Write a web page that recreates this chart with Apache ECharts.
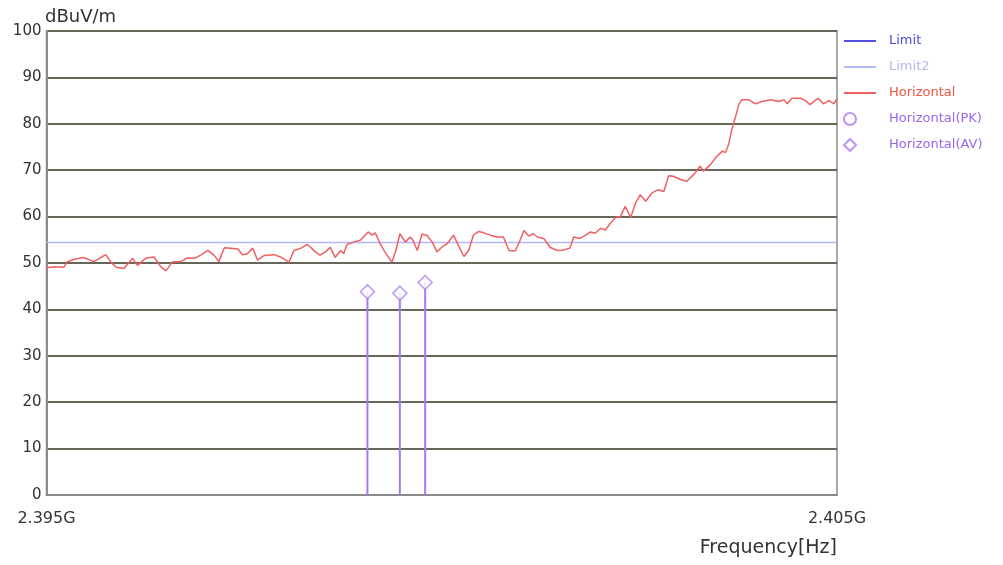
<!DOCTYPE html>
<html><head><meta charset="utf-8">
<script src="https://cdn.jsdelivr.net/npm/echarts@6/dist/echarts.min.js"></script>
<style>html,body{margin:0;padding:0;background:#fff}#c{width:1003px;height:565px}</style>
</head><body><div id="c"></div>
<script>
// Frequency in MHz
const traceFreq = [2395.00,2395.10,2395.22,2395.26,2395.35,2395.47,2395.60,2395.75,2395.81,2395.88,2395.98,2396.09,2396.15,2396.26,2396.36,2396.45,2396.51,2396.59,2396.70,2396.78,2396.87,2396.95,2397.04,2397.12,2397.18,2397.25,2397.33,2397.42,2397.48,2397.54,2397.61,2397.67,2397.75,2397.88,2397.96,2398.07,2398.13,2398.22,2398.30,2398.34,
2398.40,2398.46,2398.53,2398.59,2398.65,2398.72,2398.76,2398.80,2398.88,2398.97,2399.03,2399.07,2399.12,2399.16,2399.22,2399.28,2399.37,2399.42,2399.47,2399.54,2399.60,2399.64,2399.69,2399.75,2399.81,2399.88,2399.94,2400.00,2400.07,2400.15,2400.21,2400.28,2400.34,2400.40,2400.47,2400.53,2400.61,2400.70,2400.78,2400.85,2400.93,2400.99,2401.04,2401.10,2401.16,2401.21,2401.29,2401.37,2401.46,2401.54,2401.62,
2401.67,2401.75,2401.82,2401.88,2401.94,2402.01,2402.07,2402.13,2402.20,2402.26,2402.32,2402.39,2402.45,2402.51,2402.58,2402.66,2402.74,2402.81,2402.87,2402.93,2403.02,2403.10,2403.19,2403.27,2403.31,2403.40,2403.48,2403.55,2403.59,2403.63,2403.67,2403.72,2403.76,2403.80,2403.88,2403.97,2404.05,2404.16,2404.26,2404.33,2404.37,2404.43,2404.54,2404.60,2404.66,2404.72,2404.76,2404.83,2404.90,2404.96,2405.00];
const traceLevel = [49.0,49.2,49.1,50.2,50.8,51.2,50.3,51.8,50.3,49.1,48.8,51.0,49.5,51.1,51.3,49.1,48.3,50.2,50.3,51.1,51.0,51.7,52.7,51.7,50.3,53.3,53.2,53.0,51.8,52.0,53.2,50.6,51.6,51.8,51.3,50.2,52.7,53.2,54.0,53.4,
52.4,51.7,52.4,53.4,51.2,52.7,52.0,54.0,54.5,54.9,56.0,56.7,56.0,56.5,54.2,52.4,50.2,52.7,56.3,54.5,55.6,54.8,52.7,56.2,56.0,54.5,52.4,53.4,54.2,56.0,53.8,51.4,52.7,56.0,56.8,56.5,56.0,55.6,55.6,52.7,52.6,54.9,57.0,55.8,56.3,55.6,55.3,53.4,52.7,52.8,53.2,
55.6,55.3,56.0,56.7,56.4,57.5,57.1,58.5,59.8,60.0,62.2,59.8,62.9,64.7,63.3,65.1,65.8,65.4,68.8,68.7,68.0,67.6,69.1,70.9,69.8,71.2,73.0,74.1,73.8,75.6,78.8,81.7,84.3,85.2,85.2,84.3,84.8,85.2,84.8,85.2,84.3,85.5,85.5,85.0,84.1,85.0,85.5,84.3,85.0,84.3,85.4];
const limit2Freq = [2395.0, 2405.0];
const limit2Level = [54.4, 54.4];
const avFreq = [2399.06, 2399.47, 2399.79];
const avLevel = [43.8, 43.5, 45.8];
const yTicks = [0,10,20,30,40,50,60,70,80,90,100];

const zip = (a, b) => a.map((v, i) => [v, b[i]]);
const purple = '#a77af2';
const FONT = 'DejaVu Sans, Liberation Sans, sans-serif';

const chart = echarts.init(document.getElementById('c'));
chart.setOption({
  animation: false,
  textStyle: { fontFamily: FONT },
  title: [
    { text: 'dBuV/m', left: 45, top: 8, padding: 0, textStyle: { fontFamily: FONT, fontSize: 18, fontWeight: 'normal', color: '#333' } },
    { text: 'Frequency[Hz]', right: 166, top: 539, padding: 0, textStyle: { fontFamily: FONT, fontSize: 19, fontWeight: 'normal', color: '#333' } }
  ],
  grid: { left: 46.5, right: 166, top: 31, bottom: 70, show: true, borderColor: '#8a8a8a', borderWidth: 1.5 },
  legend: [{
    orient: 'vertical', left: 843, top: 33, padding: 0, itemWidth: 32, itemHeight: 12, itemGap: 10,
    textStyle: { fontFamily: FONT, fontSize: 13, lineHeight: 16, padding: [0, 0, 0, 8] },
    data: [
      { name: 'Limit', itemStyle: { opacity: 0 }, textStyle: { color: '#4a4adf' } },
      { name: 'Limit2', itemStyle: { opacity: 0 }, textStyle: { color: '#b6b6f2' } },
      { name: 'Horizontal', itemStyle: { opacity: 0 }, textStyle: { color: '#f0553f' } }
    ]
  }, {
    orient: 'vertical', left: 843, top: 111, padding: 0, itemWidth: 12, itemHeight: 12, itemGap: 10,
    textStyle: { fontFamily: FONT, fontSize: 13, lineHeight: 16, padding: [0, 0, 0, 28] },
    data: [
      { name: 'Horizontal(PK)', textStyle: { color: '#9966ee' } },
      { name: 'Horizontal(AV)', textStyle: { color: '#9966ee' } }
    ]
  }],
  xAxis: {
    type: 'value', min: 2395, max: 2405, interval: 5,
    axisLine: { show: true, lineStyle: { color: '#8a8a8a', width: 2 } },
    axisTick: { show: false },
    splitLine: { show: false },
    axisLabel: {
      fontFamily: FONT, fontSize: 16, color: '#333', margin: 16,
      formatter: v => (v === 2395 || v === 2405) ? (v / 1000).toFixed(3) + 'G' : ''
    }
  },
  yAxis: {
    type: 'value', min: yTicks[0], max: yTicks[yTicks.length - 1], interval: 10,
    axisLine: { show: true, lineStyle: { color: '#8a8a8a', width: 2 } },
    axisTick: { show: false },
    axisLabel: { fontFamily: FONT, fontSize: 15, color: '#333', margin: 5 },
    splitLine: { show: true, lineStyle: { color: '#66665a', width: 1.8 } }
  },
  series: [
    { name: 'Limit', type: 'line', data: [], symbol: 'none', itemStyle: { color: '#5050e0' }, lineStyle: { color: '#5050e0', width: 1.5 } },
    { name: 'Limit2', type: 'line', data: zip(limit2Freq, limit2Level), symbol: 'none', itemStyle: { color: '#b0b8f8' }, lineStyle: { color: '#b0b8f8', width: 1.5 }, z: 3 },
    { name: 'Horizontal', type: 'line', data: zip(traceFreq, traceLevel), symbol: 'none', itemStyle: { color: '#f06060' }, lineStyle: { color: '#f06060', width: 1.5 }, z: 4 },
    { name: 'Horizontal(PK)', type: 'scatter', data: [], symbol: 'circle', symbolSize: 10, itemStyle: { color: '#fff', borderColor: purple, borderWidth: 1.5 } },
    { name: 'AV stems', type: 'bar', data: zip(avFreq, avLevel), barWidth: 2, itemStyle: { color: purple }, z: 5, legendHoverLink: false },
    { name: 'Horizontal(AV)', type: 'scatter', data: zip(avFreq, avLevel), symbol: 'diamond', symbolSize: 14, itemStyle: { color: '#fff', borderColor: purple, borderWidth: 1.5 }, z: 6 }
  ]
});
</script></body></html>
